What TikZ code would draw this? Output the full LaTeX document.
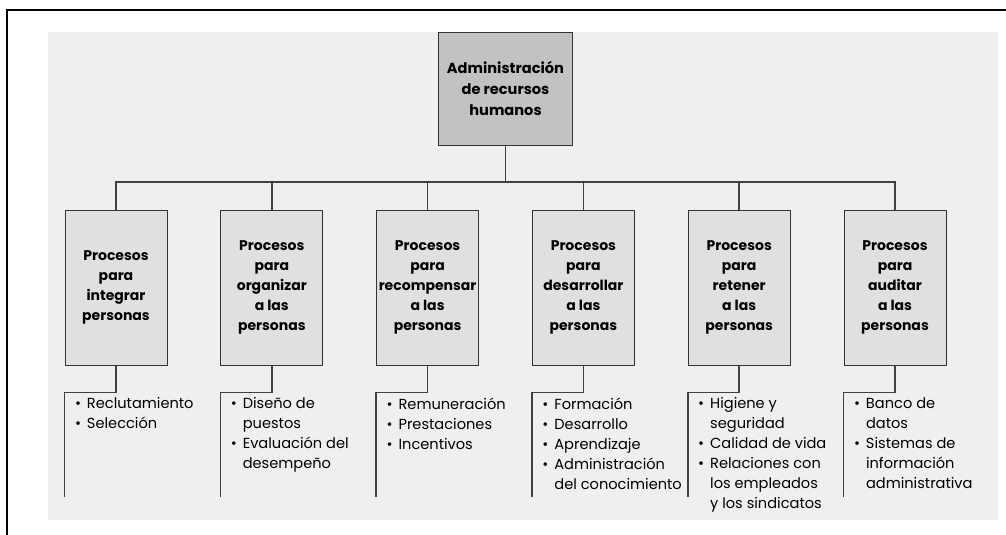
\documentclass[tikz,border=0pt]{standalone}
\usepackage{fontspec}
\setmainfont{Poppins}
\usetikzlibrary{positioning,calc}
\definecolor{fondo}{HTML}{EFEFEF}
\definecolor{cajagris}{HTML}{E0E0E0}
\definecolor{raizgris}{HTML}{C2C2C2}
\newcommand{\itm}{\makebox[6pt][l]{\textbullet}}
\newcommand{\sgt}{\hspace*{6pt}}

\begin{document}
\begin{tikzpicture}[x=0.5pt, y=-0.5pt, node distance=26.5pt, font=\fontsize{7.3}{10}\selectfont]
    % Define styles
    \tikzstyle{raiz} = [rectangle, minimum width=67pt, minimum height=56.5pt, align=center, draw=black!80, fill=raizgris, font=\bfseries\fontsize{7.3}{10.5}\selectfont]
    \tikzstyle{proceso} = [rectangle, minimum width=51pt, minimum height=77.5pt, inner sep=0.5pt, align=center, draw=black!80, fill=cajagris, font=\bfseries\fontsize{7}{10}\selectfont]
    \tikzstyle{lista} = [anchor=north west, align=left, inner sep=0pt, text=black]
    \tikzstyle{linea} = [draw=black!75, line width=0.8pt]

    % Background and frame
    \useasboundingbox (0,0) rectangle (1006,535);
    \fill [fondo] (48,32) rectangle (998,520);
    \draw [line width=1pt] (7,535) -- (7,10) -- (1006,10);

    % Nodes
    \node [raiz] (admin) at (505.5,88.5) {Administración\\de recursos\\humanos};
    \node [proceso] (integrar) at (116,287.5) {Procesos\\para\\integrar\\personas};
    \node [proceso, right=of integrar] (organizar) {Procesos\\para\\organizar\\a las\\personas};
    \node [proceso, right=of organizar] (recompensar) {Procesos\\para\\recompensar\\a las\\personas};
    \node [proceso, right=of recompensar] (desarrollar) {Procesos\\para\\desarrollar\\a las\\personas};
    \node [proceso, right=of desarrollar] (retener) {Procesos\\para\\retener\\a las\\personas};
    \node [proceso, right=of retener] (auditar) {Procesos\\para\\auditar\\a las\\personas};

    % Lists
    \node [lista] (l-integrar) at ($(integrar.south west)+(10,32)$) {\itm Reclutamiento\\\itm Selección};
    \node [lista] (l-organizar) at ($(organizar.south west)+(10,32)$) {\itm Diseño de\\\sgt puestos\\\itm Evaluación del\\\sgt desempeño};
    \node [lista] (l-recompensar) at ($(recompensar.south west)+(10,32)$) {\itm Remuneración\\\itm Prestaciones\\\itm Incentivos};
    \node [lista] (l-desarrollar) at ($(desarrollar.south west)+(10,32)$) {\itm Formación\\\itm Desarrollo\\\itm Aprendizaje\\\itm Administración\\\sgt del conocimiento};
    \node [lista] (l-retener) at ($(retener.south west)+(10,32)$) {\itm Higiene y\\\sgt seguridad\\\itm Calidad de vida\\\itm Relaciones con\\\sgt los empleados\\\sgt y los sindicatos};
    \node [lista] (l-auditar) at ($(auditar.south west)+(10,32)$) {\itm Banco de\\\sgt datos\\\itm Sistemas de\\\sgt información\\\sgt administrativa};

    % Connectors
    \coordinate (bus) at (505.5,182);
    \draw [linea] (admin.south) -- (bus);
    \draw [linea] (integrar.north) |- (bus);
    \draw [linea] (organizar.north) |- (bus);
    \draw [linea] (recompensar.north) |- (bus);
    \draw [linea] (desarrollar.north) |- (bus);
    \draw [linea] (retener.north) |- (bus);
    \draw [linea] (auditar.north) |- (bus);

    \coordinate (fin-integrar) at ($(integrar.south west)+(0,132)$);
    \coordinate (fin-organizar) at ($(organizar.south west)+(0,132)$);
    \coordinate (fin-recompensar) at ($(recompensar.south west)+(0,132)$);
    \coordinate (fin-desarrollar) at ($(desarrollar.south west)+(0,132)$);
    \coordinate (fin-retener) at ($(retener.south west)+(0,132)$);
    \coordinate (fin-auditar) at ($(auditar.south west)+(0,132)$);
    \draw [linea] (integrar.south) -- ++(0,27) -| (fin-integrar);
    \draw [linea] (organizar.south) -- ++(0,27) -| (fin-organizar);
    \draw [linea] (recompensar.south) -- ++(0,27) -| (fin-recompensar);
    \draw [linea] (desarrollar.south) -- ++(0,27) -| (fin-desarrollar);
    \draw [linea] (retener.south) -- ++(0,27) -| (fin-retener);
    \draw [linea] (auditar.south) -- ++(0,27) -| (fin-auditar);
\end{tikzpicture}
\end{document}
